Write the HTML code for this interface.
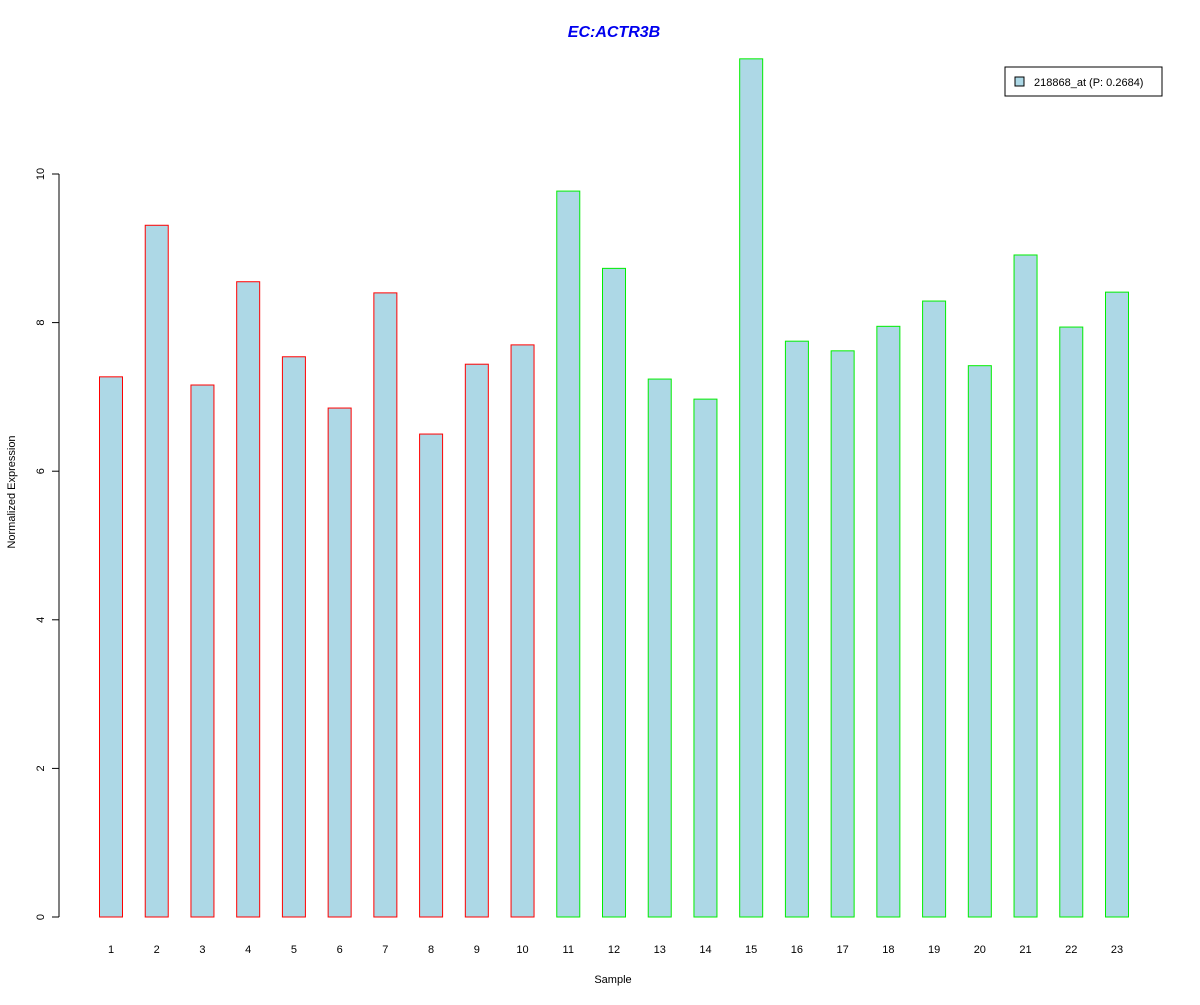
<!DOCTYPE html>
<html><head><meta charset="utf-8"><style>
body{margin:0;background:#fff;}
svg text{font-family:"Liberation Sans",Arial,sans-serif;}
</style></head><body>
<svg id="chart" width="1200" height="1000" xmlns="http://www.w3.org/2000/svg">
<rect width="1200" height="1000" fill="#fff"/>
<text x="614" y="37" text-anchor="middle" font-size="16" font-weight="bold" font-style="italic" fill="#0000ee">EC:ACTR3B</text>
<text x="613" y="983" text-anchor="middle" font-size="11" fill="#000">Sample</text>
<text transform="translate(15,492) rotate(-90)" text-anchor="middle" font-size="11" fill="#000">Normalized Expression</text>
<g id="bars"></g>
<g id="yaxis"></g>
<g id="xlabels"></g>
<g>
<rect x="1005" y="67" width="157" height="29" fill="#fff" stroke="#000"/>
<rect x="1015" y="77" width="9" height="9" fill="#add8e6" stroke="#000"/>
<text x="1034" y="86" font-size="11" fill="#000">218868_at (P: 0.2684)</text>
</g>
</svg>
<script>
const categories=["1","2","3","4","5","6","7","8","9","10","11","12","13","14","15","16","17","18","19","20","21","22","23"];
const values=[7.27,9.31,7.16,8.55,7.54,6.85,8.40,6.50,7.44,7.70,9.77,8.73,7.24,6.97,11.55,7.75,7.62,7.95,8.29,7.42,8.91,7.94,8.41];
const groups=["a","a","a","a","a","a","a","a","a","a","b","b","b","b","b","b","b","b","b","b","b","b","b"];
const yTicks=[0,2,4,6,8,10];
const NS="http://www.w3.org/2000/svg";
const y=v=>917-v*74.3;
const x=i=>111+i*(1117-111)/22;
const bars=document.getElementById('bars');
const xl=document.getElementById('xlabels');
values.forEach((v,i)=>{
 const r=document.createElementNS(NS,'rect');
 r.setAttribute('x',x(i)-11.5);r.setAttribute('width',23);
 r.setAttribute('y',y(v));r.setAttribute('height',y(0)-y(v));
 r.setAttribute('fill','#add8e6');r.setAttribute('stroke',groups[i]==='a'?'#ff0000':'#00ee00');
 
 
 bars.appendChild(r);
 const t=document.createElementNS(NS,'text');
 t.setAttribute('x',x(i));t.setAttribute('y',953);t.setAttribute('text-anchor','middle');t.setAttribute('font-size','11');
 t.textContent=categories[i];
 
 
 xl.appendChild(t);
});
const ya=document.getElementById('yaxis');
const ln=document.createElementNS(NS,'line');
ln.setAttribute('x1',59);ln.setAttribute('x2',59);ln.setAttribute('y1',y(0));ln.setAttribute('y2',y(10));ln.setAttribute('stroke','#000');


ya.appendChild(ln);
yTicks.forEach(v=>{
 const tk=document.createElementNS(NS,'line');
 tk.setAttribute('x1',52);tk.setAttribute('x2',59);tk.setAttribute('y1',y(v));tk.setAttribute('y2',y(v));tk.setAttribute('stroke','#000');
 
 
 ya.appendChild(tk);
 const t=document.createElementNS(NS,'text');
 t.setAttribute('transform','translate(44,'+y(v)+') rotate(-90)');t.setAttribute('text-anchor','middle');t.setAttribute('font-size','11');
 t.textContent=v;
 
 
 ya.appendChild(t);
});
</script>
</body></html>
